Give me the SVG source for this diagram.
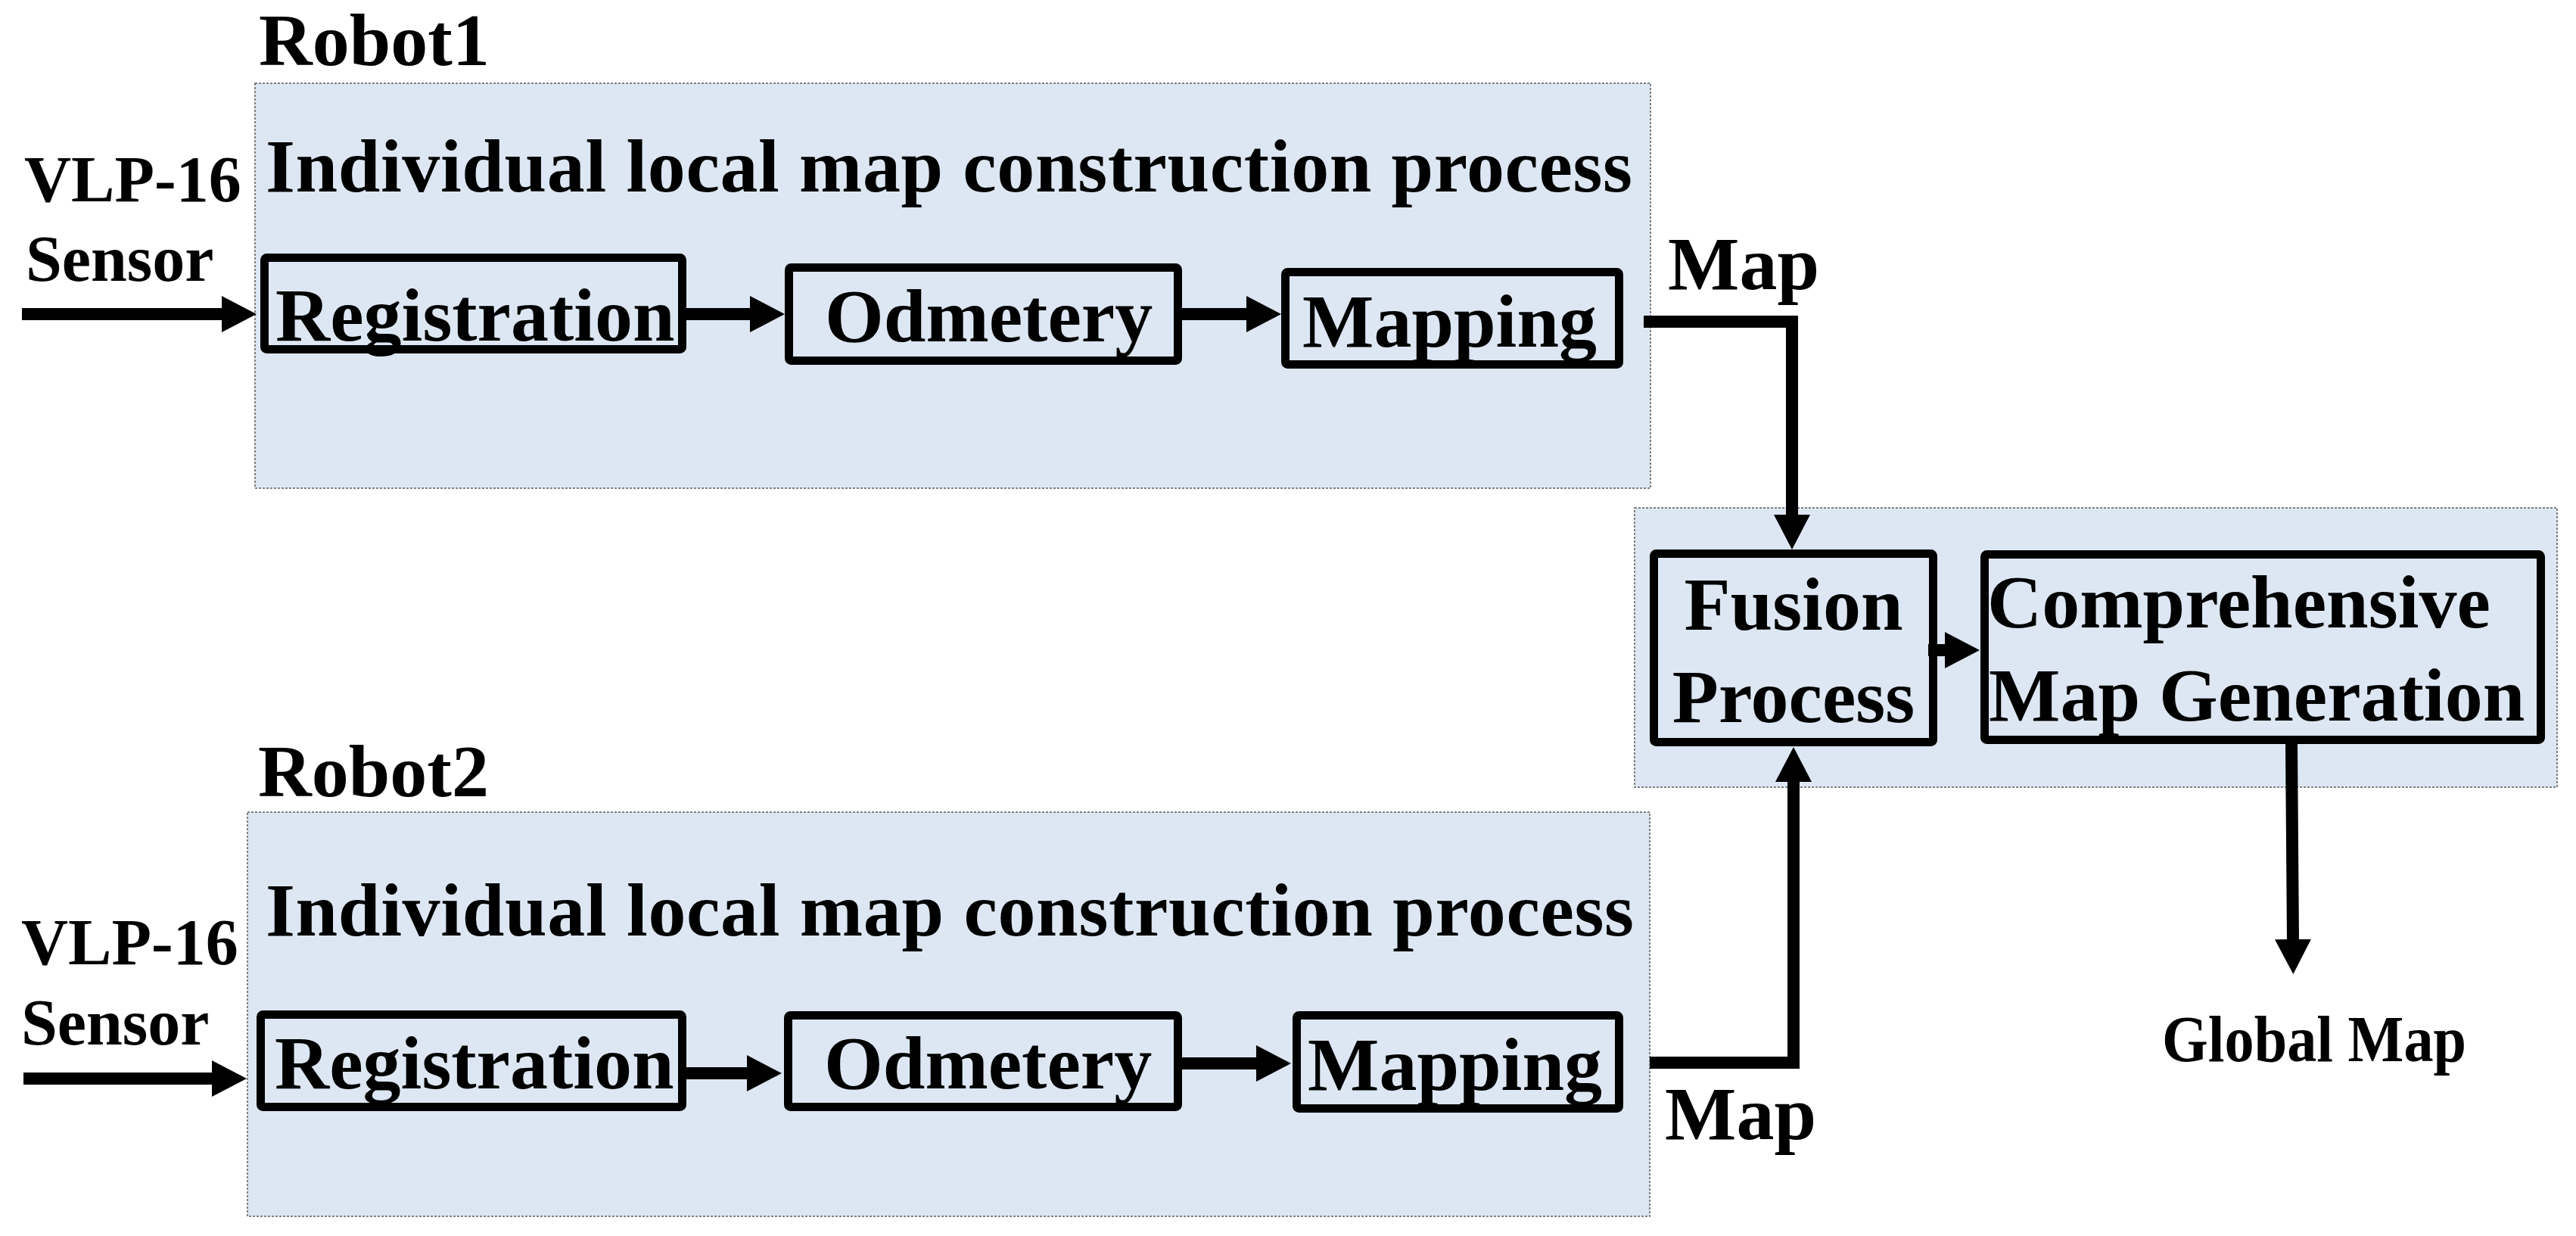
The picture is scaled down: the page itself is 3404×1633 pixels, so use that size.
<svg xmlns="http://www.w3.org/2000/svg" width="3404" height="1633" viewBox="0 0 3404 1633">
<style>
.t{font-family:"Liberation Serif","Times New Roman",serif;font-weight:bold;fill:#000}
.big{font-size:100px}
.lab{font-size:86px}
.grp{fill:#DDE7F3;stroke:#808080;stroke-width:2;stroke-dasharray:3 2}
.box{fill:none;stroke:#000;stroke-width:11;stroke-linejoin:round}
.c{fill:none;stroke:#000;stroke-width:16;stroke-linejoin:miter}
</style>
<defs>
<marker id="ah" markerUnits="userSpaceOnUse" markerWidth="46" markerHeight="48" viewBox="0 0 46 48" refX="1" refY="24" orient="auto">
<path d="M0,0 L46,24 L0,48 Z" fill="#000"/>
</marker>
</defs>
<rect width="3404" height="1633" fill="#fff"/>

<g id="robot1">
<rect class="grp" x="337" y="110" width="1844" height="535"/>
<text class="t" x="342" y="86" style="font-size:98px">Robot1</text>
<text class="t big" x="351" y="253" textLength="1806" lengthAdjust="spacing">Individual local map construction process</text>
</g>
<g id="robot2">
<rect class="grp" x="327" y="1073" width="1853" height="534"/>
<text class="t" x="341" y="1052" style="font-size:98px">Robot2</text>
<text class="t big" x="351" y="1236" textLength="1808" lengthAdjust="spacing">Individual local map construction process</text>
</g>
<g id="fusion-group">
<rect class="grp" x="2160" y="671" width="1219" height="369"/>
</g>

<g id="sensor1"><text class="t lab" x="32" y="266">VLP-16</text><text class="t lab" x="34" y="371">Sensor</text></g>
<g id="sensor2"><text class="t lab" x="28" y="1274">VLP-16</text><text class="t lab" x="28" y="1380">Sensor</text></g>

<g id="registration1"><rect class="box" x="349.5" y="340.5" width="552" height="121" rx="3"/><text class="t big" x="364" y="450">Registration</text></g>
<g id="odometry1"><rect class="box" x="1042.5" y="353.5" width="514" height="123" rx="3"/><text class="t big" x="1090" y="451">Odmetery</text></g>
<g id="mapping1"><rect class="box" x="1698.5" y="359.5" width="441" height="122" rx="3"/><text class="t big" x="1721" y="458">Mapping</text></g>

<g id="registration2"><rect class="box" x="344.5" y="1340.5" width="557" height="122" rx="3"/><text class="t big" x="363" y="1438">Registration</text></g>
<g id="odometry2"><rect class="box" x="1041.5" y="1341.5" width="515" height="121" rx="3"/><text class="t big" x="1089" y="1438">Odmetery</text></g>
<g id="mapping2"><rect class="box" x="1713.5" y="1341.5" width="426" height="123" rx="3"/><text class="t big" x="1728" y="1440">Mapping</text></g>

<g id="fusion"><rect class="box" x="2185.5" y="731.5" width="369" height="249" rx="3"/><text class="t big" x="2370" y="832" text-anchor="middle">Fusion</text><text class="t big" x="2370" y="954" text-anchor="middle">Process</text></g>
<g id="comprehensive"><rect class="box" x="2622.5" y="732.5" width="735" height="245" rx="3"/><text class="t big" x="2626" y="829">Comprehensive</text><text class="t big" x="2628" y="952">Map Generation</text></g>

<g id="labels">
<text class="t big" x="2204" y="382">Map</text>
<text class="t big" x="2200" y="1505">Map</text>
<text class="t lab" x="2857" y="1402" textLength="402" lengthAdjust="spacingAndGlyphs">Global Map</text>
</g>

<g id="connectors">
<path class="c" d="M29,415 L294,415" marker-end="url(#ah)"/>
<path class="c" d="M907,415 L992,415" marker-end="url(#ah)"/>
<path class="c" d="M1562,415 L1648,415" marker-end="url(#ah)"/>
<path class="c" d="M2172,425 L2368,425 L2368,681" marker-end="url(#ah)"/>
<path class="c" d="M31,1425 L281,1425" marker-end="url(#ah)"/>
<path class="c" d="M907,1418 L988,1418" marker-end="url(#ah)"/>
<path class="c" d="M1562,1405 L1661,1405" marker-end="url(#ah)"/>
<path class="c" d="M2180,1404 L2370,1404 L2370,1032" marker-end="url(#ah)"/>
<path class="c" d="M2548,859 L2571,859" marker-end="url(#ah)"/>
<path class="c" d="M3028,983 L3030,1242" marker-end="url(#ah)"/>
</g>
</svg>
